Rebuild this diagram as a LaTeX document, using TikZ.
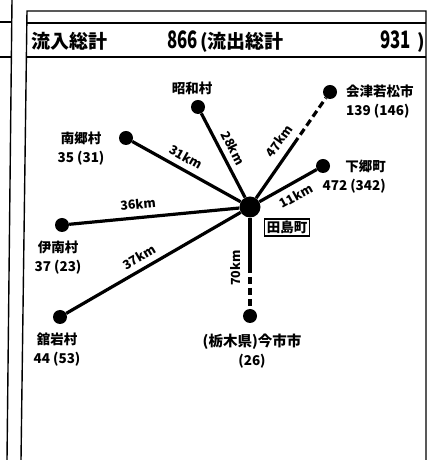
\documentclass[tikz,border=0pt]{standalone}
\usepackage{fontspec}
\usepackage{graphicx}
\setmainfont{Noto Sans CJK JP}
\begin{document}
\begin{tikzpicture}[x=1pt,y=1pt,
  frame/.style={line width=1.4pt},
  link/.style={line width=3.2pt},
  dashlink/.style={line width=3.2pt, dash pattern=on 7pt off 4pt, dash phase=7pt},
  town/.style={circle, fill=black, inner sep=0pt, minimum size=14pt},
  hub/.style={circle, fill=black, inner sep=0pt, minimum size=21pt},
  place/.style={font=\fontsize{13.5}{19}\selectfont\bfseries, inner sep=0pt},
  km/.style={font=\fontsize{12.5}{12.5}\selectfont\bfseries, inner sep=0pt},
  hdr/.style={font=\fontsize{19}{19}\selectfont\bfseries, inner sep=0pt},
]
\useasboundingbox (0,0) rectangle (429,460);
% frames
\draw[frame] (12,460) -- (7,0);
\draw[frame] (0,438) -- (11.5,438);
\draw[frame] (0,403) -- (11,403);
\draw[frame] (21,0) -- (27,449) -- (426,449) -- (426,0);
\draw[frame] (26.8,437) -- (426,437);
\draw[frame] (26.2,403) -- (426,403);
% header
\node[hdr, anchor=base west] (hA) at (31,411) {流入総計};
\node[hdr, anchor=base east] (hB) at (198,411) {\fontsize{24}{24}\selectfont\scalebox{0.7}[1]{866}};
\node[hdr, anchor=base west] (hC) at (200,411) {(流出総計};
\node[hdr, anchor=base east] (hD) at (411,411) {\fontsize{24}{24}\selectfont\scalebox{0.7}[1]{931}};
\node[hdr, anchor=base] (hE) at (421,411) {)};
% nodes
\node[hub] (H) at (250,253) {};
\node[town] (S) at (198,353) {};
\node[town] (N) at (126,322) {};
\node[town] (A) at (330,368) {};
\node[town] (D) at (323,294) {};
\node[town] (I) at (62,235) {};
\node[town] (T) at (60,143) {};
\node[town] (M) at (250,144) {};
\coordinate (Acut) at (298,322);
\coordinate (Mcut) at (250,187);
% labels
\node[place, anchor=south] (Slab) at (192,365) {昭和村};
\node[place, align=center] (Nlab) at (81,311.5) {南郷村\\35 (31)};
\node[place, align=left, anchor=west] (Alab) at (346,358) {会津若松市\\139 (146)};
\node[place, align=right, anchor=east] (Dlab) at (386,283.5) {下郷町\\472 (342)};
\node[place, align=center] (Ilab) at (58,202.5) {伊南村\\37 (23)};
\node[place, align=center] (Tlab) at (57,110) {舘岩村\\44 (53)};
\node[place, align=center] (Mlab) at (252,109) {\fontsize{14.5}{19}\selectfont(栃木県)今市市\\(26)};
\node[place, draw, line width=1.2pt, inner sep=2pt] (Hlab) at (287,232.5) {田島町};
% links
\draw[link] (H) -- (S);
\draw[link] (H) -- (N);
\draw[link] (H) -- (D);
\draw[link] (H) -- (I);
\draw[link] (H) -- (T);
\draw[link] (H) -- (Acut);
\draw[dashlink] (Acut) -- (A);
\draw[link] (H) -- (Mcut);
\draw[dashlink] (Mcut) -- (M);
% distances
\node[km, rotate=-29.5] (k31) at (186,303) {31km};
\node[km, rotate=-63.4] (k28) at (233,312) {28km};
\node[km, rotate=54.5] (k47) at (279,319) {47km};
\node[km, rotate=28.7] (k11) at (296,264) {11km};
\node[km, rotate=5.5] (k36) at (138,256) {36km};
\node[km, rotate=30.3] (k37) at (139,203) {37km};
\node[km, rotate=90] (k70) at (236,192) {70km};
\end{tikzpicture}
\end{document}
